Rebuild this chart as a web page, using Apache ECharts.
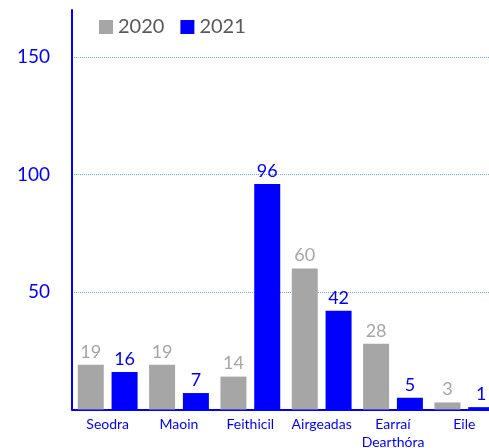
<!DOCTYPE html>
<html><head><meta charset="utf-8">
<script src="https://cdn.jsdelivr.net/npm/echarts@6/dist/echarts.min.js"></script>
<style>html,body{margin:0;padding:0;background:#fff;overflow:hidden}#c{width:500px;height:448px}</style>
</head><body><div id="c"></div>
<script>
const categories = ['Seodra', 'Maoin', 'Feithicil', 'Airgeadas', 'Earraí\nDearthóra', 'Eile'];
const values2020 = [19, 19, 14, 60, 28, 3];
const values2021 = [16, 7, 96, 42, 5, 1];
const seriesNames = ['2020', '2021'];
const FONT = 'Lato';
const chart = echarts.init(document.getElementById('c'));
chart.setOption({
  animation: false,
  textStyle: { fontFamily: FONT },
  legend: {
    left: 94, top: 12, itemWidth: 14, itemHeight: 14, itemGap: 16,
    icon: 'rect',
    textStyle: { fontSize: 20, color: '#595959', fontFamily: FONT },
    data: seriesNames
  },
  grid: { left: 72, right: 0, top: 10, bottom: 38.5, containLabel: false, outerBoundsMode: 'none' },
  xAxis: {
    type: 'category', data: categories,
    axisLine: { lineStyle: { color: '#0000ff', width: 2 } },
    axisTick: { show: false },
    axisLabel: { color: '#0000ff', fontSize: 14, margin: 6, interval: 0, lineHeight: 18, fontFamily: FONT }
  },
  yAxis: {
    type: 'value', min: 0, max: 170, interval: 50,
    axisLine: { show: true, lineStyle: { color: '#0000ff', width: 2 } },
    axisTick: { show: false },
    axisLabel: { color: '#0000ff', fontSize: 19, margin: 22, showMinLabel: false, showMaxLabel: false, fontFamily: FONT },
    splitLine: { show: true, showMinLine: false, showMaxLine: false, lineStyle: { color: '#6aaaf0', type: 'dotted', width: 1 } }
  },
  series: [
    { name: seriesNames[0], type: 'bar', data: values2020, barWidth: 26, barGap: '30%',
      itemStyle: { color: '#a6a6a6' },
      label: { show: true, position: 'top', color: '#a6a6a6', fontSize: 18, distance: 4, fontFamily: FONT } },
    { name: seriesNames[1], type: 'bar', data: values2021, barWidth: 26,
      itemStyle: { color: '#0000ff' },
      label: { show: true, position: 'top', color: '#0000ff', fontSize: 18, distance: 4, fontFamily: FONT } }
  ]
});
</script></body></html>
